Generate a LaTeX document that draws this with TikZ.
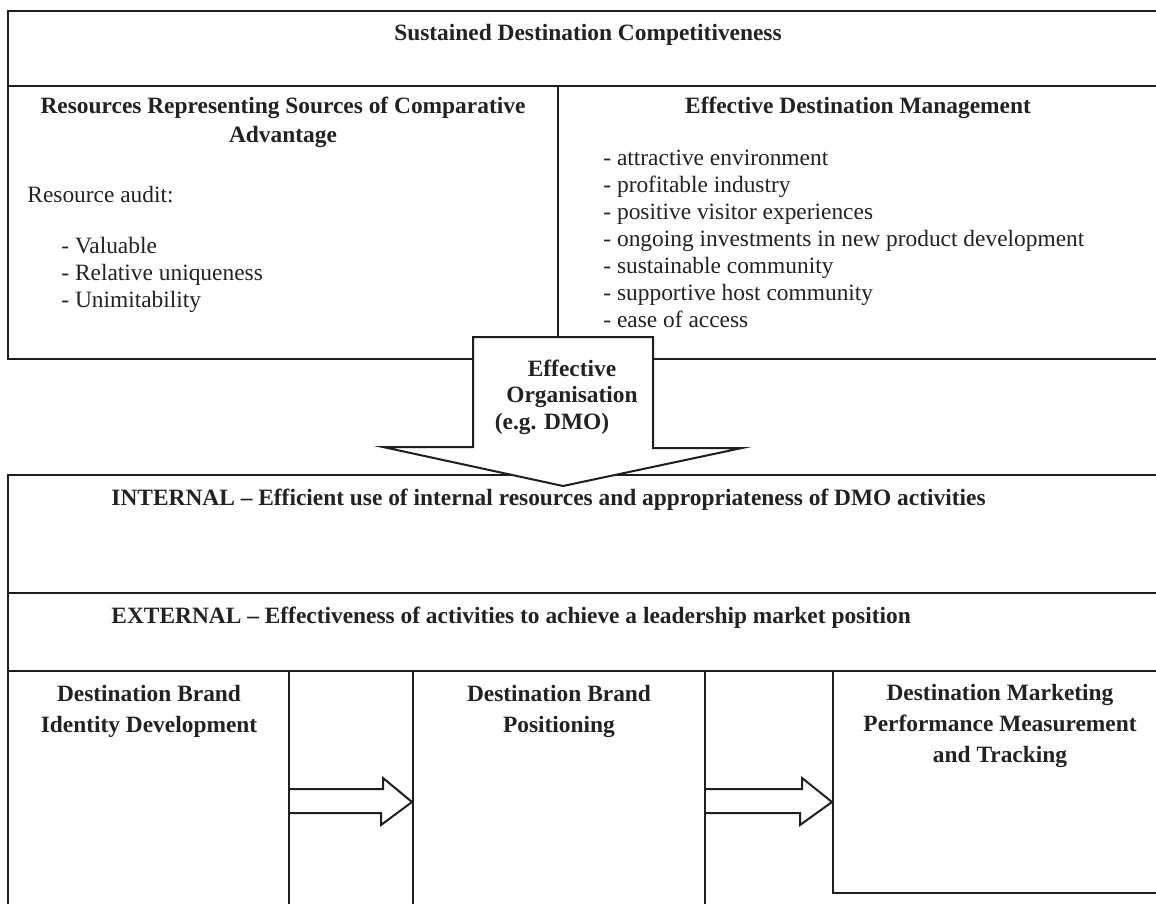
\documentclass[tikz,border=0pt]{standalone}
\usepackage{fontspec}
\setmainfont{Liberation Serif}
\usetikzlibrary{positioning,fit,calc}
\definecolor{cLine}{HTML}{1E1E1E}
\definecolor{cText}{HTML}{222222}
\tikzset{
  font=\fontsize{11.7}{13.5}\selectfont,
  cell/.style={draw=cLine, line width=1pt, inner sep=0pt},
  hd/.style={font=\fontsize{11.7}{14.5}\selectfont\bfseries, text=cText,
             align=center, inner sep=0pt},
  hdlow/.style={hd, font=\fontsize{11.7}{15.5}\selectfont\bfseries},
  hdorg/.style={hd, font=\fontsize{11.7}{13.3}\selectfont\bfseries},
  txt/.style={text=cText, align=left, inner sep=0pt, anchor=west},
  hollow/.style={draw=cLine, line width=1pt, fill=white, line join=miter},
}

\begin{document}
\begin{tikzpicture}[x=0.5pt, y=-0.5pt]
\useasboundingbox (0,0) rectangle (1156,904);
\clip (0,0) rectangle (1156,904);

% ------------------------------------------------------------------ upper frame
\node[cell, fit={(8,11)(1170,86)}]   (sdc) {};
\node[cell, fit={(8,86)(558,359)}]   (res) {};
\node[cell, fit={(558,86)(1170,359)}] (edm) {};

\node[hd] (sdcT) at (588,35) {Sustained Destination Competitiveness};

\node[hd] (resT) at (283,122) {Resources Representing Sources of Comparative\\Advantage};
\node[txt] (audit) at (27,195) {Resource audit:};
\node[txt] (resL) at (61,275) {- Valuable\\- Relative uniqueness\\- Unimitability};

\node[hd] (edmT) at (858,108) {Effective Destination Management};
\node[txt] (edmL) at (603,239)
  {- attractive environment\\- profitable industry\\- positive visitor experiences\\
   - ongoing investments in new product development\\- sustainable community\\
   - supportive host community\\- ease of access};

% ------------------------------------------------------------------ lower frame
\node[cell, fit={(8,475)(1170,593)}] (int) {};
\node[cell, fit={(8,593)(1170,671)}] (ext) {};
\node[txt, font=\fontsize{11.7}{13.5}\selectfont\bfseries] (intT) at (111,500)
  {INTERNAL -- Efficient use of internal resources and appropriateness of DMO activities};
\node[txt, font=\fontsize{11.7}{13.5}\selectfont\bfseries] (extT) at (111,618)
  {EXTERNAL -- Effectiveness of activities to achieve a leadership market position};

\node[cell, fit={(8,671)(289,930)}]    (ident) {};
\node[cell, fit={(413,671)(705,930)}]  (pos)   {};
\node[cell, fit={(833,671)(1170,893)}] (perf)  {};
\node[hdlow] (identT) at (149,711) {Destination Brand\\Identity Development};
\node[hdlow] (posT)   at (559,711) {Destination Brand\\Positioning};
\node[hdlow] (perfT)  at (1000,726) {Destination Marketing\\Performance Measurement\\and Tracking};

% hollow arrows between the lower boxes
\draw[hollow] (ident.east |- 0,789) -- ++(93,0) -- ++(0,-11) -- (pos.west |- 0,802)
  -- ++(-31,23) -- ++(0,-12) -- (ident.east |- 0,813);
\draw[hollow] (pos.east |- 0,789) -- ++(96,0) -- ++(0,-11) -- (perf.west |- 0,802)
  -- ++(-32,23) -- ++(0,-12) -- (pos.east |- 0,813);

% ------------------------------------------------------------------ organisation arrow
\coordinate (orgtop) at (563,337);
\coordinate (orgtip) at (int.north -| orgtop);
\draw[hollow] (orgtop) ++(-90,0) -- ++(180,0) -- ++(0,111) -- ++(89,0)
  -- ($(orgtip)+(0,12)$) -- ++(-180,-39) -- ++(90,0) -- cycle;
\node[hdorg] (org) at (572,397) {Effective\\Organisation\\(e.g. DMO)\hspace*{20pt}};

\end{tikzpicture}
\end{document}
